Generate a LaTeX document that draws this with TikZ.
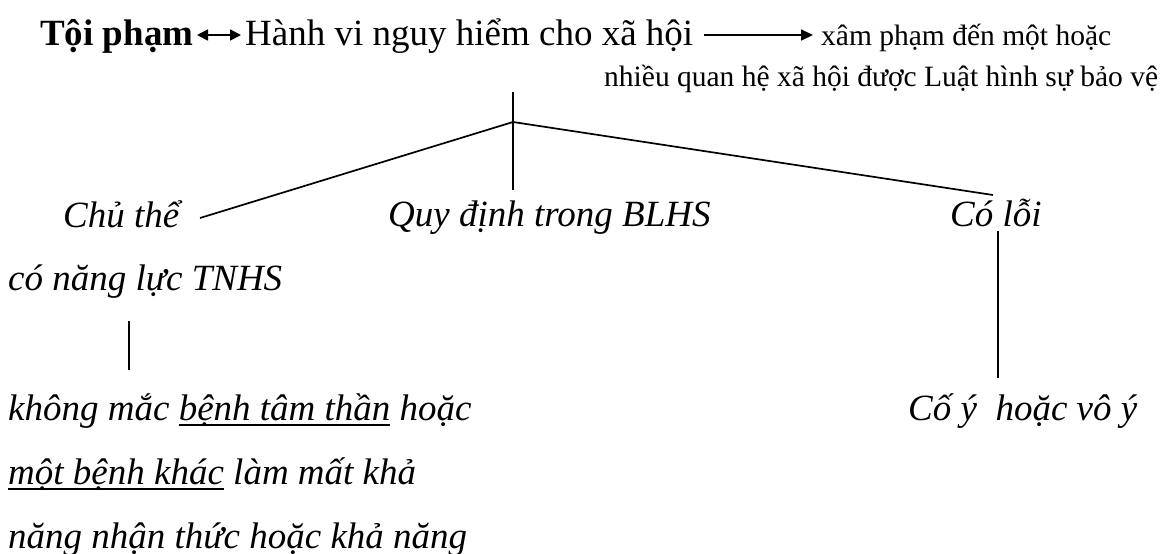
\documentclass[tikz,border=0pt]{standalone}
\usepackage{fontspec}
\setmainfont{Liberation Serif}
\usetikzlibrary{arrows.meta}
% underline with a rule weight that suits the large type
\newcommand\ulin[1]{\setbox0\hbox{#1}\rlap{\rule[-5.5pt]{\wd0}{1.8pt}}\box0\relax}
\begin{document}
\begin{tikzpicture}[x=1pt,y=-1pt,
  txt/.style={font=\fontsize{37}{44}\selectfont, inner sep=0pt, anchor=base west},
  itx/.style={txt, font=\fontsize{37}{44}\selectfont\itshape},
  small/.style={txt, font=\fontsize{29.5}{35}\selectfont},
  link/.style={line width=1.7pt},
  arr/.style={line width=1.7pt, -{Triangle[length=12pt,width=11pt]}},
  dbl/.style={line width=1.7pt, {Triangle[length=11pt,width=11pt]}-{Triangle[length=11pt,width=11pt]}}]
\useasboundingbox (0,0) rectangle (1167,554);

% header line
\node[txt] (toi) at (40,45) {\textbf{Tội phạm}};
\node[txt] (hv) at (245,45) {Hành vi nguy hiểm cho xã hội};
\node[small] (xam) at (821,45) {xâm phạm đến một hoặc};
\node[small] (nhieu) at (604,86) {nhiều quan hệ xã hội được Luật hình sự bảo vệ};

\coordinate (a1) at (197,35);
\coordinate (a2) at (241,35);
\coordinate (b1) at (704,35);
\coordinate (b2) at (813,35);
\draw[dbl] (a1) -- (a2);
\draw[arr] (b1) -- (b2);

% three properties
\node[itx] (chu) at (63,227) {Chủ thể};
\node[itx] (quy) at (388,226) {Quy định trong BLHS};
\node[itx] (loi) at (950,226) {Có lỗi};

\coordinate (top) at (513,92);
\coordinate (J) at (513,122);
\coordinate (qtop) at (513,190);
\coordinate (cend) at (200,218);
\coordinate (lend) at (993,195);
\draw[link] (top) -- (qtop);
\draw[link] (cend) -- (J) -- (lend);

% subject branch
\node[itx] (nl) at (8,290) {có năng lực TNHS};
\coordinate (s1) at (129,321);
\coordinate (s2) at (129,370);
\draw[link] (s1) -- (s2);
\node[itx] (k1) at (8,420) {không mắc \ulin{bệnh tâm thần} hoặc};
\node[itx] (k2) at (8,484) {\ulin{một bệnh khác} làm mất khả};
\node[itx] (k3) at (8,548) {năng nhận thức hoặc khả năng};

% fault branch
\coordinate (f1) at (998,231);
\coordinate (f2) at (998,378);
\draw[link] (f1) -- (f2);
\node[itx] (coy) at (908,420) {Cố ý \ hoặc vô ý};
\end{tikzpicture}
\end{document}
